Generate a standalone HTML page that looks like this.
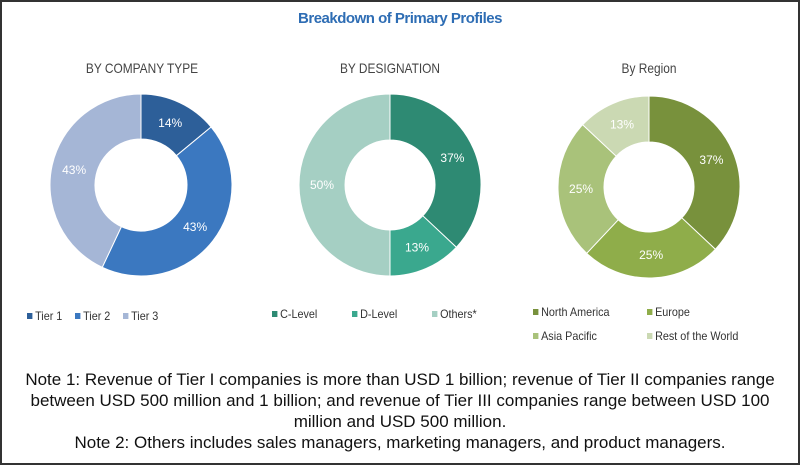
<!DOCTYPE html>
<html><head><meta charset="utf-8"><style>
body{margin:0;background:#fff}
.wrap{position:relative;width:796px;height:461px;border:2px solid #333;overflow:hidden;font-family:"Liberation Sans",sans-serif}
.t{position:absolute;white-space:nowrap}
.title{left:0;width:796px;text-align:center;top:8px;font-weight:bold;color:#2e6db4;font-size:15px;letter-spacing:-0.5px}
.sub{top:58px;font-size:14px;color:#444;transform:scaleX(0.85);transform-origin:center}
.lg{font-size:12px;color:#333;transform:scaleX(0.9);transform-origin:left}
.lg i{display:inline-block;width:6px;height:6px;margin-right:3px;vertical-align:1px}
.pct{font-size:12px;fill:#fff;font-family:"Liberation Sans",sans-serif}
.note{left:0;width:796px;text-align:center;top:367px;font-size:17px;line-height:21px;color:#111}
</style></head><body><div class="wrap">
<div class="t title">Breakdown of Primary Profiles</div>
<div class="t sub" style="left:60px;width:160px;text-align:center">BY COMPANY TYPE</div>
<div class="t sub" style="left:308px;width:160px;text-align:center">BY DESIGNATION</div>
<div class="t sub" style="left:567px;width:160px;text-align:center">By Region</div>
<svg width="796" height="461" style="position:absolute;left:0;top:0" id="s"></svg>
<div class="t lg" style="left:25px;top:307px"><i style="background:#2d5f99"></i>Tier 1</div>
<div class="t lg" style="left:73px;top:307px"><i style="background:#3b78c0"></i>Tier 2</div>
<div class="t lg" style="left:121px;top:307px"><i style="background:#a5b6d6"></i>Tier 3</div>
<div class="t lg" style="left:270px;top:305px"><i style="background:#2e8a73"></i>C-Level</div>
<div class="t lg" style="left:350px;top:305px"><i style="background:#3aa88e"></i>D-Level</div>
<div class="t lg" style="left:430px;top:305px"><i style="background:#a5cfc3"></i>Others*</div>
<div class="t lg" style="left:531px;top:303px"><i style="background:#78913c"></i>North America</div>
<div class="t lg" style="left:645px;top:303px"><i style="background:#8fad4a"></i>Europe</div>
<div class="t lg" style="left:531px;top:327px"><i style="background:#a9c27a"></i>Asia Pacific</div>
<div class="t lg" style="left:645px;top:327px"><i style="background:#cbd9b3"></i>Rest of the World</div>
<div class="t note">Note 1: Revenue of Tier I companies is more than USD 1 billion; revenue of Tier II companies range<br>between USD 500 million and 1 billion; and revenue of Tier III companies range between USD 100<br>million and USD 500 million.<br>Note 2: Others includes sales managers, marketing managers, and product managers.</div>
</div>
<script>
var s=document.getElementById('s'),ns='http://www.w3.org/2000/svg';
function donut(cx,cy,R,r,data){var a=0;data.forEach(function(d){var a0=a/100*2*Math.PI,a1=(a+d[0])/100*2*Math.PI;
function p(rr,t){return [cx+rr*Math.sin(t),cy-rr*Math.cos(t)]}
var l=d[0]>50?1:0,P1=p(R,a0),P2=p(R,a1),P3=p(r,a1),P4=p(r,a0);
var e=document.createElementNS(ns,'path');
e.setAttribute('d','M'+P1+'A'+R+','+R+' 0 '+l+' 1 '+P2+'L'+P3+'A'+r+','+r+' 0 '+l+' 0 '+P4+'Z');
e.setAttribute('fill',d[1]);e.setAttribute('stroke','#fff');e.setAttribute('stroke-width','1');s.appendChild(e);
var m=(a0+a1)/2,L=p((R+r)/2,m),t=document.createElementNS(ns,'text');
t.setAttribute('x',L[0]);t.setAttribute('y',L[1]+4);t.setAttribute('text-anchor','middle');t.setAttribute('class','pct');t.textContent=d[0]+'%';s.appendChild(t);
a+=d[0];});}
donut(139,183,91,46,[[14,'#2d5f99'],[43,'#3b78c0'],[43,'#a5b6d6']]);
donut(388,183,91,45,[[37,'#2e8a73'],[13,'#3aa88e'],[50,'#a5cfc3']]);
donut(647,185,91,45,[[37,'#78913c'],[25,'#8fad4a'],[25,'#a9c27a'],[13,'#cbd9b3']]);
</script>
</body></html>
